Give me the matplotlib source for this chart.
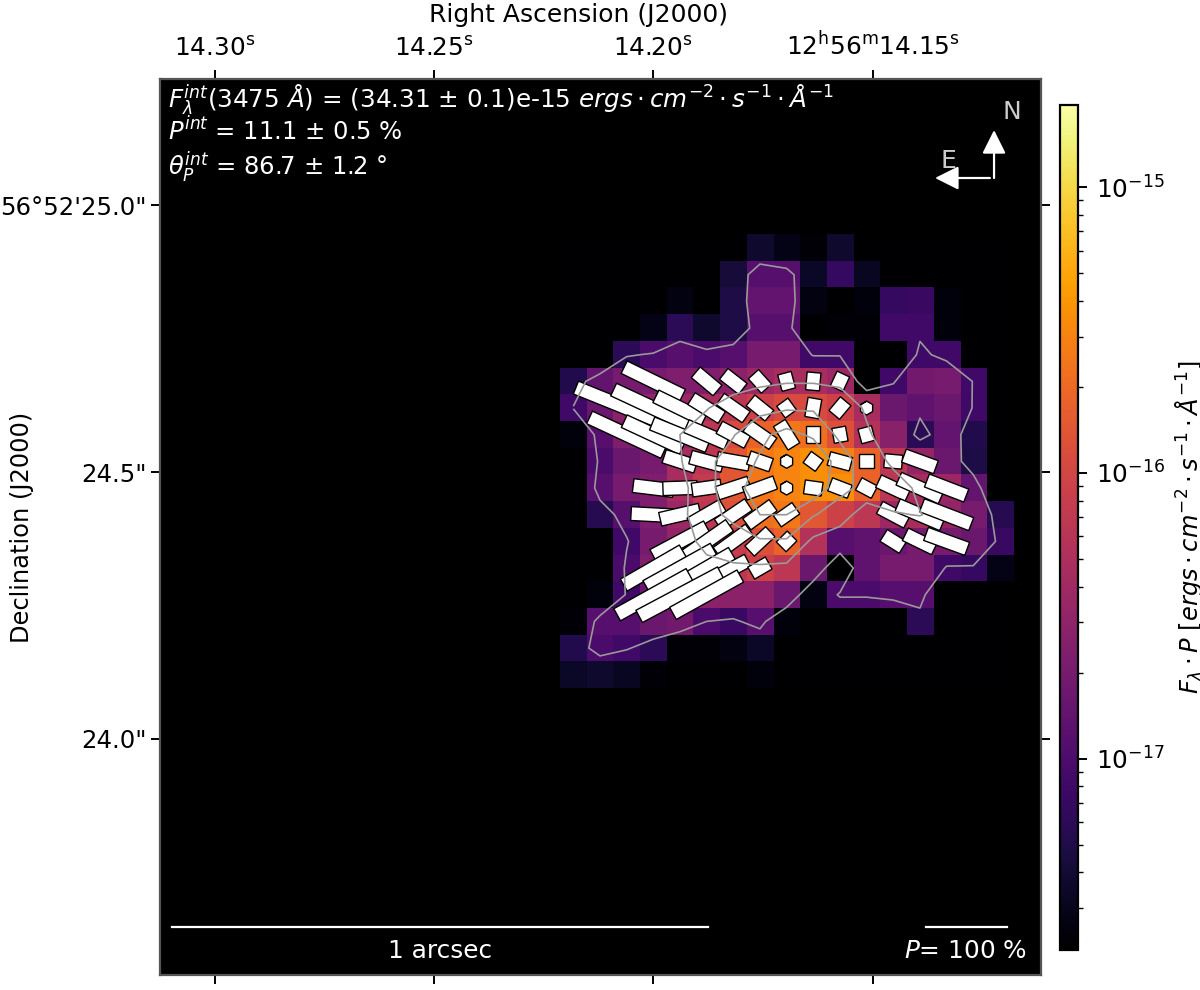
import numpy as np
import matplotlib
matplotlib.use('Agg')
import matplotlib.pyplot as plt
from matplotlib.colors import LogNorm


# Colour bar limits
vmin = 2.14e-18
vmax = 1.94e-15

# Map cells, top row first, as position on the log colour scale (0 = vmin, 1 = vmax)
flux_level = np.array([
    [0, 0, 0, 0, 0, 0, 0, .08, .04, .01, .08, 0, 0, 0, 0, 0, 0],
    [0, 0, 0, 0, 0, 0, .1, .25, .25, .07, .17, .06, 0, 0, 0, 0, 0],
    [0, 0, 0, 0, .03, 0, .12, .28, .28, .03, 0, .02, .17, .18, .02, 0, 0],
    [0, 0, 0, .04, .15, .08, .12, .25, .25, 0, .01, .01, .2, .2, .02, 0, 0],
    [0, 0, .15, .22, .25, .22, .25, .33, .33, .2, .2, 0, 0, .2, .2, 0, 0],
    [.13, .28, .33, .33, .35, .35, .38, .42, .45, .45, .42, 0, .2, .32, .33, .2, 0],
    [.2, .3, .38, .4, .42, .45, .5, .55, .58, .58, .55, .45, .3, .27, .3, .2, 0],
    [.02, .25, .35, .4, .4, .5, .58, .65, .7, .68, .6, .48, .37, .15, .28, .13, 0],
    [0, .22, .3, .33, .45, .5, .62, .7, .73, .75, .72, .65, .5, .4, .3, .12, 0],
    [0, .25, .33, .35, .45, .52, .62, .7, .73, .75, .75, .65, .5, .45, .42, .28, 0],
    [0, .14, .25, .35, .42, .5, .6, .68, .7, .62, .55, .5, .42, .45, .4, .33, .14],
    [0, 0, .2, .33, .4, .45, .53, .6, .65, .48, .25, .27, .3, .33, .33, .3, .18],
    [0, 0, .22, .35, .42, .45, .5, .55, .5, .3, 0, .27, .33, .33, .2, .17, .04],
    [0, .02, .2, .3, .33, .38, .38, .38, .3, .03, .22, .22, .25, .25, 0, 0, 0],
    [.01, .25, .25, .3, .32, .22, .18, .25, .02, 0, 0, 0, 0, .15, 0, 0, 0],
    [.13, .22, .2, .15, .01, .01, .03, .07, 0, 0, 0, 0, 0, 0, 0, 0, 0],
    [.07, .08, .06, .01, 0, 0, 0, .02, 0, 0, 0, 0, 0, 0, 0, 0, 0],
])

# Total intensity behind the contours, same grid and scale
intensity_level = np.array([
    [0, 0, 0, 0, 0, 0, 0, .08, .04, .01, .08, 0, 0, 0, 0, 0, 0],
    [0, 0, 0, 0, 0, 0, .1, .28, .25, .07, .17, .06, 0, 0, 0, 0, 0],
    [0, 0, 0, 0, .03, 0, .12, .28, .28, .03, 0, .02, .17, .18, .02, 0, 0],
    [0, 0, 0, .04, .15, .08, .12, .25, .25, 0, .01, .01, .18, .17, .02, 0, 0],
    [0, 0, .19, .21, .25, .23, .25, .33, .33, .19, .19, 0, 0, .23, .16, 0, 0],
    [.13, .28, .33, .33, .35, .35, .4, .42, .44, .44, .42, .08, .19, .32, .33, .195, 0],
    [.205, .3, .38, .4, .42, .445, .5, .56, .58, .58, .55, .43, .3, .23, .3, .195, 0],
    [.02, .25, .35, .4, .45, .5, .585, .66, .71, .665, .57, .47, .37, .15, .28, .13, 0],
    [0, .22, .3, .33, .44, .57, .63, .69, .75, .76, .64, .54, .42, .4, .3, .12, 0],
    [0, .25, .33, .35, .4, .56, .65, .72, .75, .74, .63, .55, .52, .42, .42, .28, 0],
    [0, .14, .25, .35, .41, .55, .62, .68, .68, .6, .52, .37, .44, .455, .4, .33, .14],
    [0, 0, .19, .33, .42, .47, .53, .58, .58, .42, .36, .27, .3, .33, .33, .3, .18],
    [0, 0, .22, .35, .42, .43, .43, .43, .42, .36, 0, .4, .33, .33, .19, .19, .04],
    [0, .02, .21, .3, .33, .38, .38, .38, .36, .03, .22, .22, .25, .25, 0, 0, 0],
    [.01, .25, .25, .3, .32, .2, .18, .25, .02, 0, 0, 0, 0, .15, 0, 0, 0],
    [.13, .25, .21, .15, .01, .01, .03, .07, 0, 0, 0, 0, 0, 0, 0, 0, 0],
    [.07, .08, .06, .01, 0, 0, 0, .02, 0, 0, 0, 0, 0, 0, 0, 0, 0],
])
contour_levels = [.2, .45, .59, .68]

# Polarisation vectors: row and column of the map cell, degree (%), angle (deg E of N)
vec_row = [5, 5, 5, 5, 5, 5, 5,
           6, 6, 6, 6, 6, 6, 6, 6, 6, 6,
           7, 7, 7, 7, 7, 7, 7, 7, 7, 7,
           8, 8, 8, 8, 8, 8, 8, 8, 8, 8,
           9, 9, 9, 9, 9, 9, 9, 9, 9, 9, 9, 9,
           10, 10, 10, 10, 10, 10, 10, 10, 10,
           11, 11, 11, 11, 11, 11, 11, 11,
           12, 12, 12, 12, 12,
           13, 13, 13]
vec_col = [3, 5, 6, 7, 8, 9, 10,
           2, 3, 4, 5, 6, 7, 8, 9, 10, 11,
           2, 3, 4, 5, 6, 7, 8, 9, 10, 11,
           4, 5, 6, 7, 8, 9, 10, 11, 12, 13,
           3, 4, 5, 6, 7, 8, 9, 10, 11, 12, 13, 14,
           3, 4, 5, 6, 7, 8, 12, 13, 14,
           4, 5, 6, 7, 8, 12, 13, 14,
           3, 4, 5, 6, 7,
           3, 4, 5]
vec_p = [80, 35, 30, 24, 21, 22, 20,
         135, 108, 66, 44, 39, 30, 18, 24, 22, 4,
         101, 79, 74, 54, 39, 39, 34, 21, 18.5, 18.5,
         41, 41, 40, 29, 5, 18.5, 28, 19, 22, 42,
         50, 42, 36, 41, 40, 5, 22, 26, 22, 40, 57, 52,
         55, 50, 46, 45, 40, 28, 38, 60, 65,
         75, 69, 49, 35, 19, 28, 40, 54,
         84, 95, 72, 40, 25,
         102, 114, 95]
vec_pa = [64, 50, 52, 42, 15, -5, -25,
          68, 65, 64, 58, 55, 51, 36, -10, -40, 0,
          65, 65, 68, 67, 62, 55, 32, 0, 10, 15,
          72, 75, 80, 71, 0, 54, 75, 90, 85, 70,
          83, 92, 98, 108, 110, 0, 82, 69, 62, 65, 66, 69,
          87, 103, 120, 124, 126, 125, 62, 67, 69,
          118, 125, 126, 133, 135, 58, 64, 70,
          120, 119, 120, 118, 120,
          119, 118, 119]

ra_ticks = [1.56, 9.78, 18.0, 26.23]
ra_labels = ['14.30$^{\\mathrm{s}}$', '14.25$^{\\mathrm{s}}$', '14.20$^{\\mathrm{s}}$',
             '12$^{\\mathrm{h}}$56$^{\\mathrm{m}}$14.15$^{\\mathrm{s}}$']
dec_ticks = [28.61, 18.60, 8.59]
dec_labels = ['56°52\'25.0"', '24.5"', '24.0"']

W, H = 1200, 990
fig = plt.figure(figsize=(W / 200, H / 200), dpi=200)
plt.rcParams['font.size'] = 8.9

# Axes box
ax = fig.add_axes([160 / W, (H - 975) / H, 881 / W, 896 / H])
ax.set_facecolor('black')
ax.set_xlim(-0.5, 32.54)
ax.set_ylim(-0.26, 33.34)

flux = vmin * (vmax / vmin) ** flux_level
flux = flux[::-1]
norm = LogNorm(vmin=vmin, vmax=vmax)
col_x = np.arange(15, 32)
row_y = np.arange(11, 28)
im = ax.imshow(flux, cmap='inferno', norm=norm, origin='lower', aspect='auto',
               interpolation='nearest', extent=(14.5, 31.5, 10.5, 27.5))

# Contours
ax.contour(col_x, row_y, intensity_level[::-1], levels=contour_levels, colors='#999999',
           linewidths=0.6, zorder=4)

# Vectors
vec_x = np.array(vec_col) + 15
vec_y = 27 - np.array(vec_row)
pa = np.radians(vec_pa)
p = np.array(vec_p, dtype=float)
ax.quiver(vec_x, vec_y, -p * np.sin(pa), p * np.cos(pa), units='xy', angles='xy', scale_units='xy',
          scale=100 / 3.04, pivot='mid', headwidth=0, headlength=0, headaxislength=0, width=0.52,
          color='w', edgecolor='k', linewidth=0.5, zorder=3)

# Ticks and labels
ax.set_xticks(ra_ticks)
ax.set_xticklabels(ra_labels)
ax.set_yticks(dec_ticks)
ax.set_yticklabels(dec_labels)
ax.tick_params(top=True, bottom=True, left=True, right=True, labeltop=True, labelbottom=False,
               labelsize=8.9, length=3.2, width=0.7)
ax.tick_params(axis='y', pad=1.7, labelsize=8.8)
ax.xaxis.set_label_position('top')
ax.set_xlabel('Right Ascension (J2000)', fontsize=9)
ax.set_ylabel('Declination (J2000)', fontsize=8.7)
ax.xaxis.set_label_coords(0.4745, 1.0636)
ax.yaxis.set_label_coords(-0.143, 0.5)
for s in ax.spines.values():
    s.set_color('#555555')
    s.set_linewidth(0.8)

# Integrated values
tr = ax.transAxes
ax.text(0.009, 0.9676, '$F_{\\lambda}^{int}$(3475 $\\AA$) = (34.31 $\\pm$ 0.1)e-15 '
        '$ergs \\cdot cm^{-2} \\cdot s^{-1} \\cdot \\AA^{-1}$',
        color='w', fontsize=8.85, transform=tr, va='baseline')
ax.text(0.009, 0.9319, '$P^{int}$ = 11.1 $\\pm$ 0.5 %', color='w', fontsize=8.75,
        transform=tr, va='baseline')
ax.text(0.009, 0.8929, '$\\theta_{P}^{int}$ = 86.7 $\\pm$ 1.2 °', color='w', fontsize=8.75,
        transform=tr, va='baseline')

# Scale bars
ax.plot([0.0136, 0.622], [0.0536, 0.0536], color='w', lw=0.8, transform=tr)
ax.text(0.318, 0.0268, '1 arcsec', color='w', fontsize=8.9, ha='center', va='center', transform=tr)
ax.plot([0.8694, 0.9614], [0.0536, 0.0536], color='w', lw=0.8, transform=tr)
ax.text(0.9137, 0.0268, '$P$= 100 %', color='w', fontsize=8.9, ha='center', va='center', transform=tr)

# North and east
ax.annotate('', xy=(0.9467, 0.943), xytext=(0.9467, 0.8895), xycoords=tr, textcoords=tr,
            arrowprops=dict(arrowstyle='-|>,head_length=0.6,head_width=0.3', color='w', lw=0.8,
                            mutation_scale=12, shrinkA=0, shrinkB=0))
ax.annotate('', xy=(0.8797, 0.8895), xytext=(0.942, 0.8895), xycoords=tr, textcoords=tr,
            arrowprops=dict(arrowstyle='-|>,head_length=0.6,head_width=0.3', color='w', lw=0.8,
                            mutation_scale=12, shrinkA=0, shrinkB=0))
ax.text(0.9665, 0.963, 'N', color='#cccccc', fontsize=9, ha='center', va='center', transform=tr)
ax.text(0.8955, 0.9085, 'E', color='#cccccc', fontsize=9, ha='center', va='center', transform=tr)

# Colour bar
cax = fig.add_axes([1060 / W, (H - 950) / H, 17.5 / W, 845 / H])
cbar = fig.colorbar(im, cax=cax)
cbar.ax.tick_params(labelsize=8.9, width=0.7, length=3.2)
cbar.ax.tick_params(which='minor', width=0.5, length=1.8)
cbar.set_label('$F_{\\lambda} \\cdot P$ [$ergs \\cdot cm^{-2} \\cdot s^{-1} \\cdot \\AA^{-1}$]', fontsize=8.7)
cbar.ax.yaxis.set_label_coords(6.45, 0.5)

fig.savefig('out.png', dpi=200)
